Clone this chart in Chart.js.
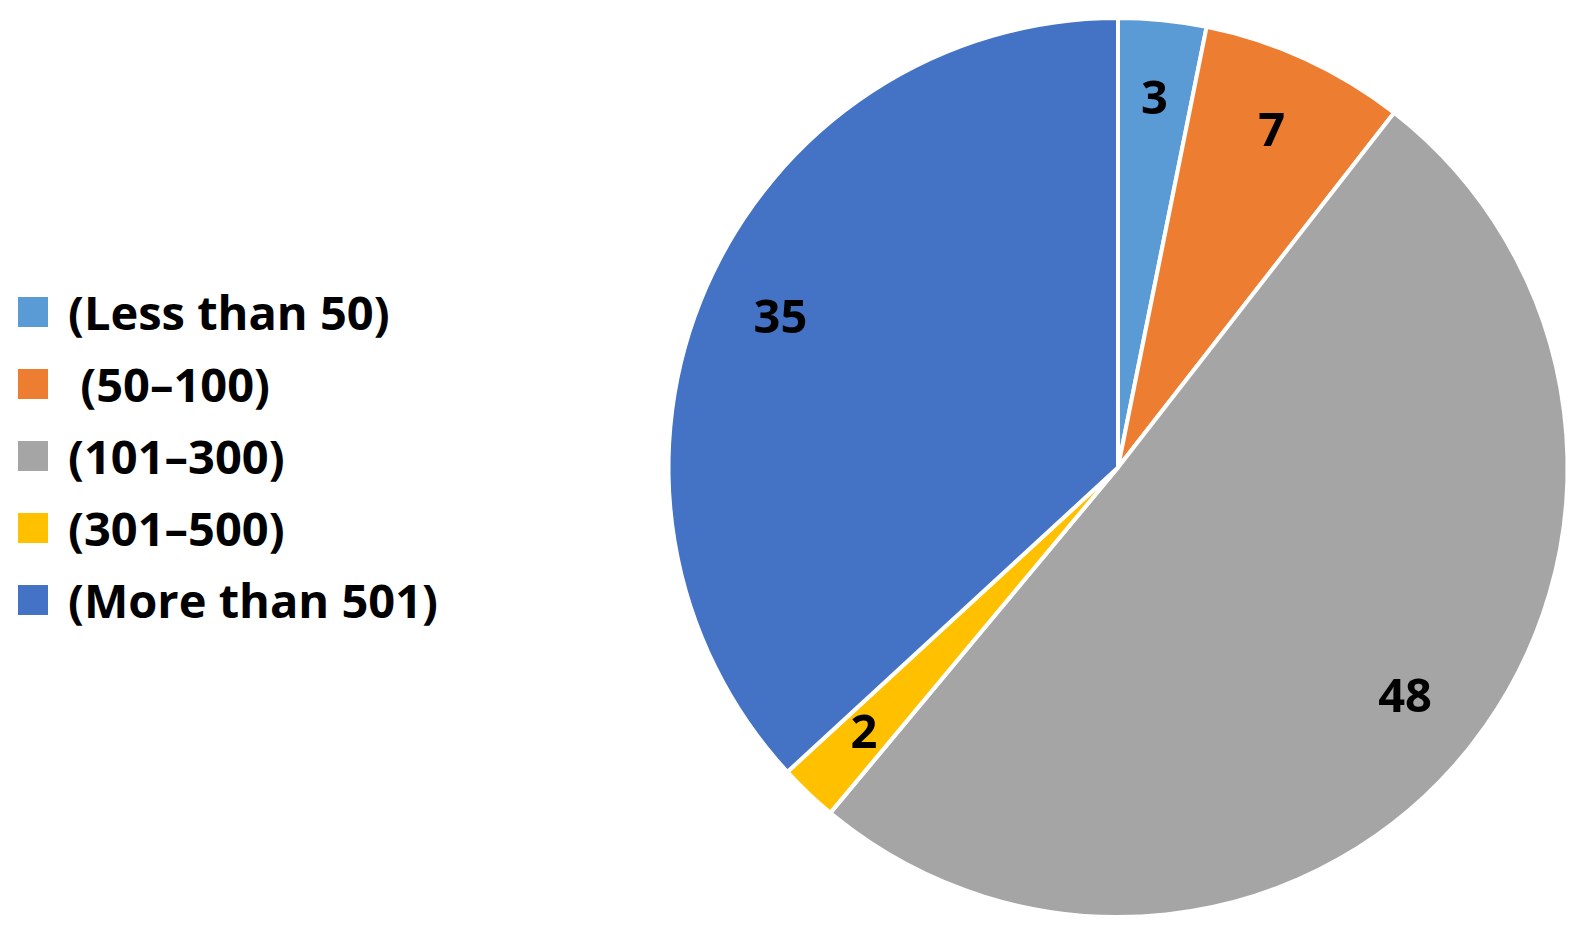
<!DOCTYPE html>
<html>
<head>
<meta charset="utf-8">
<script src="https://cdn.jsdelivr.net/npm/chart.js@4"></script>
<style>
  body { margin: 0; background: #fff; width: 1586px; height: 939px; position: relative; overflow: hidden;
         font-family: "Open Sans", "Lato", sans-serif; }
  #legend { position: absolute; left: 18px; top: 276px; }
  .row { display: flex; align-items: center; height: 72px; font-weight: bold; font-size: 47px; color: #000; white-space: pre; }
  .box { width: 30px; height: 30px; margin-right: 20px; }
  #wrap { position: absolute; left: 653px; top: 0; width: 930px; height: 939px; }
</style>
</head>
<body>
<div id="legend"></div>
<div id="wrap"><canvas id="chart"></canvas></div>
<script>
const categories = ["(Less than 50)", " (50\u2013100)", "(101\u2013300)", "(301\u2013500)", "(More than 501)"];
const values = [3, 7, 48, 2, 35];
const colors = ["#5b9bd5", "#ed7d31", "#a5a5a5", "#ffc000", "#4472c4"];

const legend = document.getElementById("legend");
categories.forEach((c, i) => {
  const row = document.createElement("div");
  row.className = "row";
  row.innerHTML = '<div class="box" style="background:' + colors[i] + '"></div><span></span>';
  row.querySelector("span").textContent = c;
  legend.appendChild(row);
});

const valueLabels = {
  id: "valueLabels",
  afterDatasetsDraw(chart) {
    const ctx = chart.ctx;
    const meta = chart.getDatasetMeta(0);
    ctx.save();
    ctx.font = "bold 47px 'Open Sans', Lato, sans-serif";
    ctx.fillStyle = "#000";
    ctx.textAlign = "center";
    ctx.textBaseline = "middle";
    meta.data.forEach((arc, i) => {
      const p = arc.getProps(["x", "y", "startAngle", "endAngle", "outerRadius"], true);
      const a = (p.startAngle + p.endAngle) / 2;
      const r = p.outerRadius * 0.82;
      ctx.fillText(String(values[i]), p.x + Math.cos(a) * r, p.y + Math.sin(a) * r);
    });
    ctx.restore();
  }
};

new Chart(document.getElementById("chart").getContext("2d"), {
  type: "pie",
  data: {
    labels: categories,
    datasets: [{
      data: values,
      backgroundColor: colors,
      borderColor: "#fff",
      borderWidth: 4
    }]
  },
  options: {
    responsive: true,
    maintainAspectRatio: false,
    animation: false,
    layout: { padding: { top: 16, bottom: 20 } },
    plugins: {
      legend: { display: false },
      tooltip: { enabled: false }
    }
  },
  plugins: [valueLabels]
});
</script>
</body>
</html>
